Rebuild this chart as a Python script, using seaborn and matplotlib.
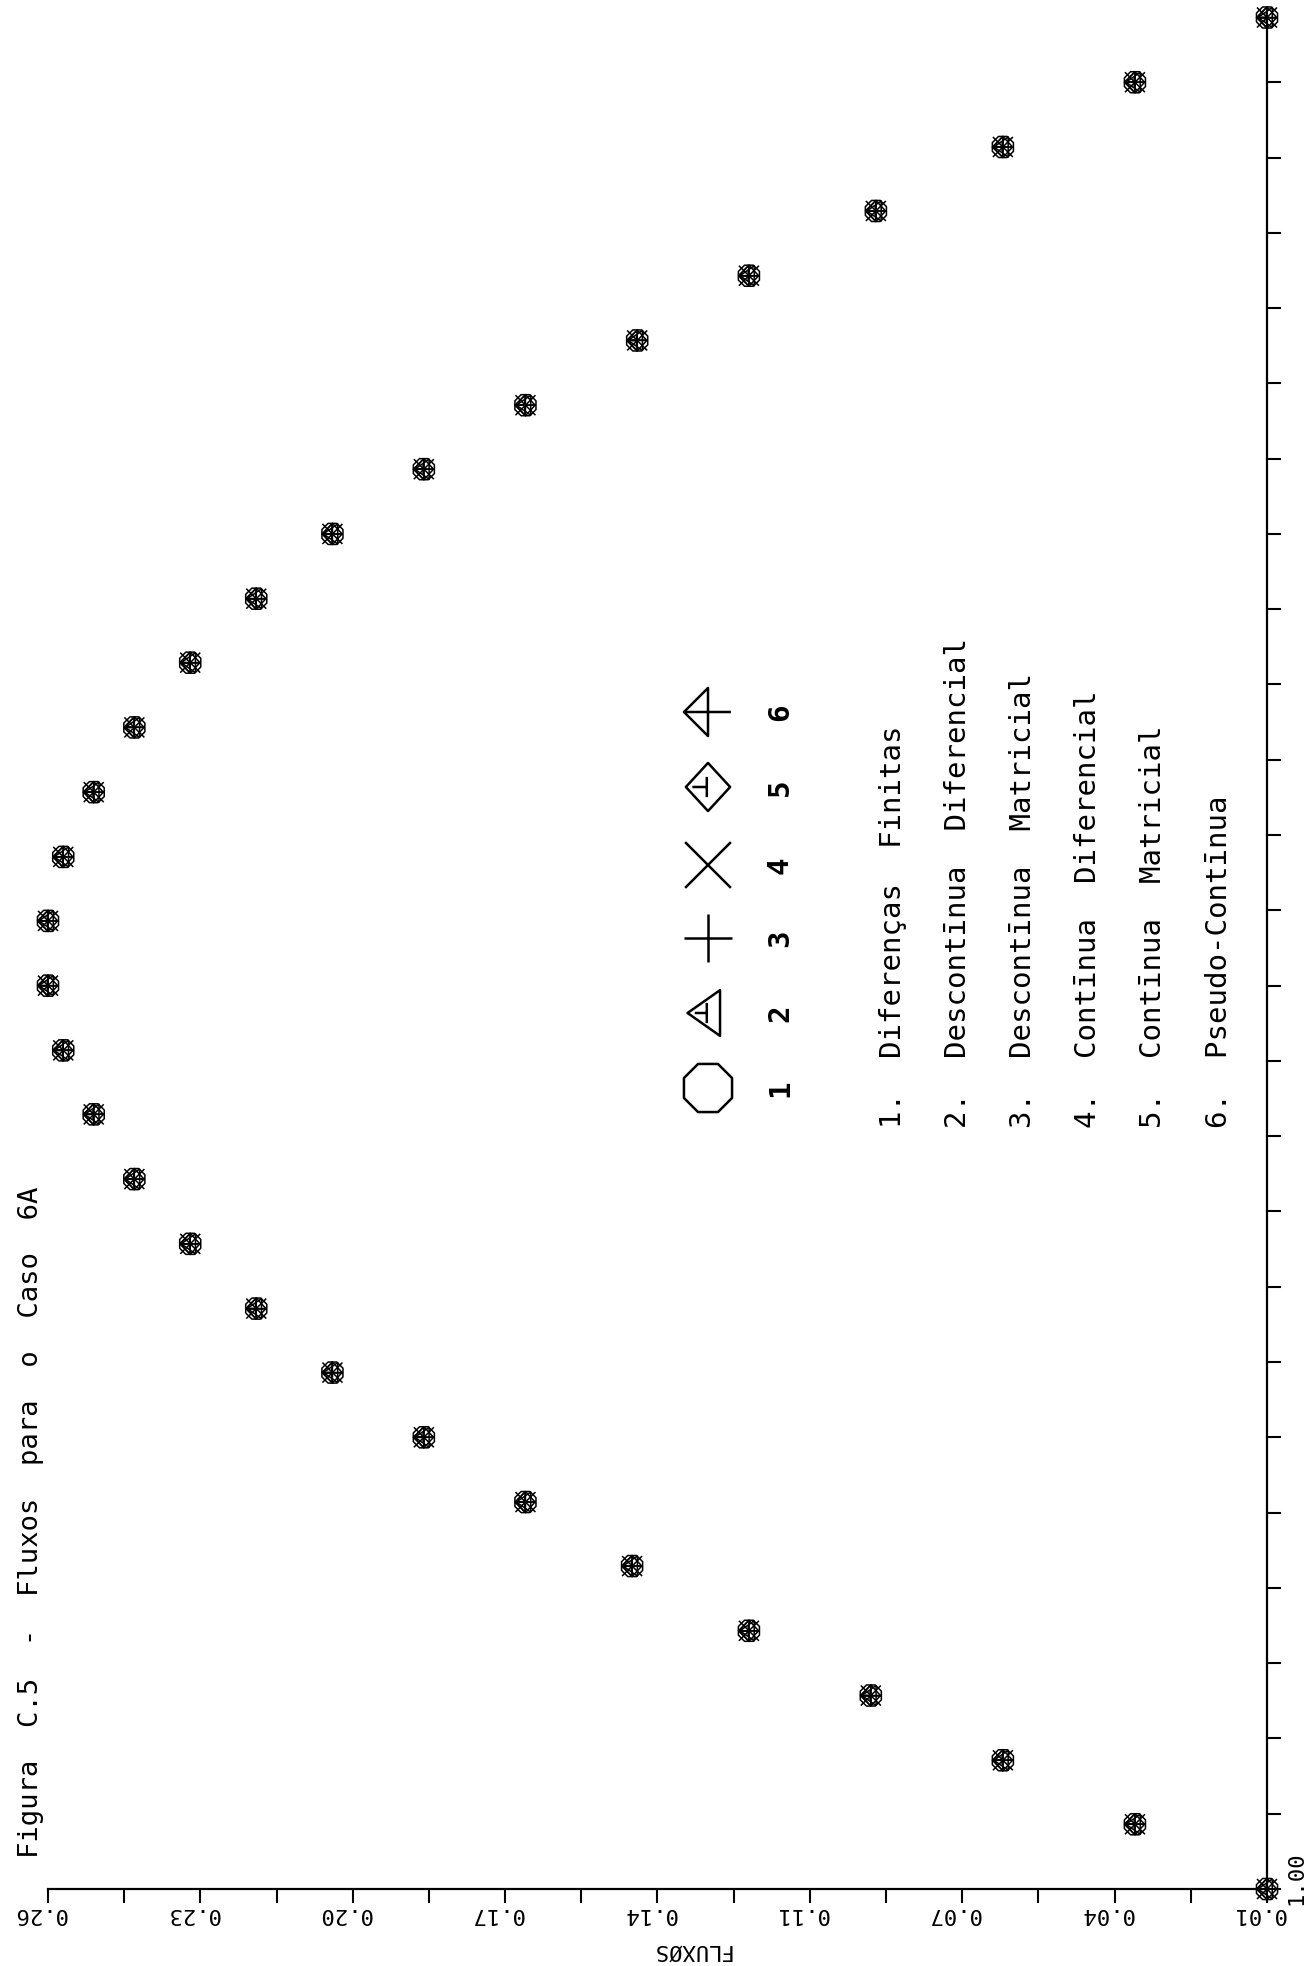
import numpy as np
import pandas as pd
import matplotlib
matplotlib.use("Agg")
import matplotlib.pyplot as plt
from matplotlib.path import Path
from matplotlib.transforms import ScaledTranslation
import seaborn as sns

# ---------------------------------------------------------------------------
# Data: flux profile for case 6A, six solution methods
# ---------------------------------------------------------------------------
posicao = [1.00, 1.86, 2.71, 3.57, 4.43, 5.29, 6.14, 7.00, 7.86, 8.71,
           9.57, 10.43, 11.29, 12.14, 13.00, 13.86, 14.71, 15.57, 16.43, 17.29,
           18.14, 19.00, 19.86, 20.71, 21.57, 22.43, 23.29, 24.14, 25.00, 25.86]

fluxo_diferencas_finitas = [0.020, 0.046, 0.072, 0.098, 0.122, 0.145, 0.166, 0.186, 0.204, 0.219,
                            0.232, 0.243, 0.251, 0.257, 0.260, 0.260, 0.257, 0.251, 0.243, 0.232,
                            0.219, 0.204, 0.186, 0.166, 0.144, 0.122, 0.097, 0.072, 0.046, 0.020]
fluxo_descontinua_diferencial = [0.020, 0.046, 0.072, 0.098, 0.122, 0.145, 0.166, 0.186, 0.204, 0.219,
                                 0.232, 0.243, 0.251, 0.257, 0.260, 0.260, 0.257, 0.251, 0.243, 0.232,
                                 0.219, 0.204, 0.186, 0.166, 0.144, 0.122, 0.097, 0.072, 0.046, 0.020]
fluxo_descontinua_matricial = [0.020, 0.046, 0.072, 0.098, 0.122, 0.145, 0.166, 0.186, 0.204, 0.219,
                               0.232, 0.243, 0.251, 0.257, 0.260, 0.260, 0.257, 0.251, 0.243, 0.232,
                               0.219, 0.204, 0.186, 0.166, 0.144, 0.122, 0.097, 0.072, 0.046, 0.020]
fluxo_continua_diferencial = [0.020, 0.046, 0.072, 0.098, 0.122, 0.145, 0.166, 0.186, 0.204, 0.219,
                              0.232, 0.243, 0.251, 0.257, 0.260, 0.260, 0.257, 0.251, 0.243, 0.232,
                              0.219, 0.204, 0.186, 0.166, 0.144, 0.122, 0.097, 0.072, 0.046, 0.020]
fluxo_continua_matricial = [0.020, 0.046, 0.072, 0.098, 0.122, 0.145, 0.166, 0.186, 0.204, 0.219,
                            0.232, 0.243, 0.251, 0.257, 0.260, 0.260, 0.257, 0.251, 0.243, 0.232,
                            0.219, 0.204, 0.186, 0.166, 0.144, 0.122, 0.097, 0.072, 0.046, 0.020]
fluxo_pseudo_continua = [0.020, 0.046, 0.072, 0.098, 0.122, 0.145, 0.166, 0.186, 0.204, 0.219,
                         0.232, 0.243, 0.251, 0.257, 0.260, 0.260, 0.257, 0.251, 0.243, 0.232,
                         0.219, 0.204, 0.186, 0.166, 0.144, 0.122, 0.097, 0.072, 0.046, 0.020]

metodos = ["Diferenças  Finitas", "Descontīnua  Diferencial", "Descontīnua  Matricial",
           "Contīnua  Diferencial", "Contīnua  Matricial", "Pseudo-Contīnua"]
series = [fluxo_diferencas_finitas, fluxo_descontinua_diferencial, fluxo_descontinua_matricial,
          fluxo_continua_diferencial, fluxo_continua_matricial, fluxo_pseudo_continua]

fluxo_ticks = [0.26, 0.23, 0.20, 0.17, 0.14, 0.11, 0.08, 0.05, 0.02]
fluxo_ticklabels = ["0.26", "0.23", "0.20", "0.17", "0.14", "0.11", "0.07", "0.04", "0.01"]
posicao_ticks = list(range(1, 26))
posicao_ticklabels = ["1.00"] + [""] * 24

titulo = "Figura  C.5  -  Fluxos  para  o  Caso  6A"
rotulo_fluxo = "FLUXØS"

# ---------------------------------------------------------------------------
# Plotter-style line-art symbols (drawn rotated with the page)
# ---------------------------------------------------------------------------
def simbolo(polylines, closed):
    verts = [(1.0, 1.0)]
    codes = [Path.MOVETO]
    for pts, fechar in zip(polylines, closed):
        verts.append(pts[0]); codes.append(Path.MOVETO)
        for p in pts[1:]:
            verts.append(p); codes.append(Path.LINETO)
        if fechar:
            verts.append(pts[0]); codes.append(Path.CLOSEPOLY)
    return Path(verts, codes)

octo = [(1, 0.414), (0.414, 1), (-0.414, 1), (-1, 0.414),
        (-1, -0.414), (-0.414, -1), (0.414, -1), (1, -0.414)]
simbolos = [
    simbolo([octo], [True]),
    simbolo([[(-0.85, 0), (0.5, 0.95), (0.5, -0.95)],
             [(-0.55, 0), (-0.05, 0)], [(-0.05, 0.42), (-0.05, -0.42)]], [True, False, False]),
    simbolo([[(-1, 0), (1, 0)], [(0, -1), (0, 1)]], [False, False]),
    simbolo([[(-0.95, -0.95), (0.95, 0.95)], [(-0.95, 0.95), (0.95, -0.95)]], [False, False]),
    simbolo([[(-0.92, 0), (0, 1), (0.92, 0), (0, -1)],
             [(-0.65, 0), (-0.05, 0)], [(-0.05, 0.42), (-0.05, -0.42)]], [True, False, False]),
    simbolo([[(-1, 0), (0, 1), (0, -1)], [(-1, 0), (0.95, 0)]], [True, False]),
]

# ---------------------------------------------------------------------------
# Figure
# ---------------------------------------------------------------------------
sns.set_theme(style="white")
plt.rcParams["font.family"] = ["DejaVu Sans Mono", "DejaVu Sans"]

W, H = 1310, 1966
fig = plt.figure(figsize=(W / 100, H / 100), dpi=100)
fig.patch.set_facecolor("white")
ax = fig.add_axes([48 / W, (H - 1889) / H, 1219 / W, 1871.5 / H])
ax.set_facecolor("white")

for fluxo, mk in zip(series, simbolos):
    sns.scatterplot(x=fluxo, y=posicao, marker=mk, s=230, facecolor="none",
                    edgecolor="black", linewidth=1.1, ax=ax, clip_on=False,
                    zorder=3, legend=False)

ax.set_xlim(0.26, 0.02)
ax.set_ylim(1.00, 25.86)

sns.despine(ax=ax, left=True, top=True, right=False, bottom=False)
for lado in ("right", "bottom"):
    ax.spines[lado].set_color("black")
    ax.spines[lado].set_linewidth(1.6)

# flux axis (bottom), labels upside down
ax.set_xticks(fluxo_ticks)
ax.set_xticks([(a + b) / 2 for a, b in zip(fluxo_ticks[:-1], fluxo_ticks[1:])], minor=True)
ax.set_xticklabels(fluxo_ticklabels, rotation=180, fontsize=16)
ax.tick_params(axis="x", which="both", direction="out", length=10, width=1.5,
               color="black", pad=1, bottom=True, labelcolor="black")
desloc = ScaledTranslation(-8 / 100, 0, fig.dpi_scale_trans)
for lab in ax.get_xticklabels():
    lab.set_transform(lab.get_transform() + desloc)

# position axis (right)
ax.yaxis.tick_right()
ax.set_yticks(posicao_ticks)
ax.set_yticklabels(posicao_ticklabels, rotation=90, va="center", fontsize=16)
ax.tick_params(axis="y", direction="out", length=10, width=1.5, color="black",
               pad=4, right=True, left=False, labelcolor="black")
subir = ScaledTranslation(0, 11 / 100, fig.dpi_scale_trans)
for lab in ax.get_yticklabels():
    lab.set_transform(lab.get_transform() + subir)
ax.grid(False)

fig.text(690 / W, (H - 1950) / H, rotulo_fluxo, rotation=180, ha="center",
         va="center", fontsize=16, color="black")

# title along the left edge
fig.text(31 / W, (H - 1858) / H, titulo, rotation=90, ha="center", va="bottom",
         fontsize=19.6, color="black")

# symbol key
ys_chave = [1088, 1013, 938, 865, 787, 712]
for i, (mk, yk) in enumerate(zip(simbolos, ys_chave), start=1):
    ax.scatter([708 / W], [(H - yk) / H], marker=mk, s=1200, facecolor="none",
               edgecolor="black", linewidths=1.8, transform=fig.transFigure,
               clip_on=False, zorder=4)
    fig.text(780 / W, (H - yk) / H, str(i), rotation=90, ha="center", va="center",
             fontsize=21, fontweight="bold", color="black")

xs_linhas = [893, 958, 1023, 1088, 1153, 1219]
for i, (nome, xl) in enumerate(zip(metodos, xs_linhas), start=1):
    fig.text(xl / W, (H - 1128) / H, f"{i}.  {nome}", rotation=90, ha="center",
             va="bottom", fontsize=21, color="black")

fig.savefig("out.png", dpi=100, facecolor="white")
